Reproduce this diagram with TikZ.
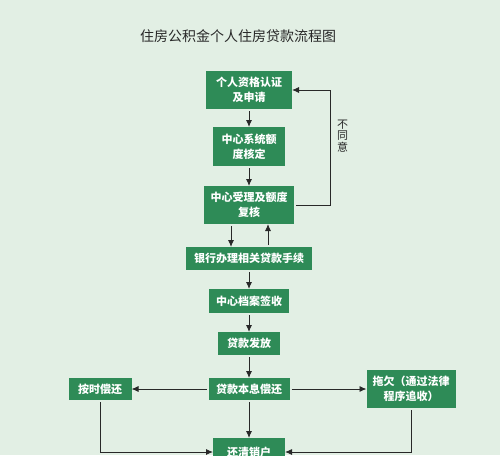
\documentclass[tikz,border=0pt]{standalone}
\usepackage{fontspec}
\setmainfont{Noto Sans CJK SC}
\usetikzlibrary{arrows.meta}
\definecolor{boxgreen}{RGB}{46,139,87}
\definecolor{paper}{RGB}{226,239,228}
\definecolor{ink}{RGB}{40,40,40}
\begin{document}
\begin{tikzpicture}[x=1pt,y=-1pt,inner sep=0pt,outer sep=0pt,>={Latex[length=7pt,width=6pt]},
stepbox/.style={draw=none,fill=boxgreen,text=white,rectangle,align=center,font=\fontsize{11}{15}\selectfont\bfseries},
flow/.style={->,draw=ink,line width=0.9pt,shorten <=2pt}]

\useasboundingbox (0,0) rectangle (500,455);
\clip (0,0) rectangle (500,455);
\fill[paper] (0,0) rectangle (500,455);

\draw (238,36) node[font=\fontsize{14}{16}\selectfont,text=ink] (title) {住房公积金个人住房贷款流程图};

\draw (249,90) node[stepbox,minimum width=86pt,minimum height=38pt] (apply) {个人资格认证\\及申请};
\draw (249,146.5) node[stepbox,minimum width=72pt,minimum height=39pt] (check) {中心系统额\\度核定};
\draw (249,205) node[stepbox,minimum width=90pt,minimum height=38pt] (review) {中心受理及额度\\复核};
\draw (249,258.5) node[stepbox,minimum width=126pt,minimum height=23pt] (bank) {银行办理相关贷款手续};
\draw (249,301) node[stepbox,minimum width=80pt,minimum height=24pt] (archive) {中心档案签收};
\draw (249,343.5) node[stepbox,minimum width=62pt,minimum height=23pt] (issue) {贷款发放};
\draw (249,389) node[stepbox,minimum width=81pt,minimum height=22pt] (repay) {贷款本息偿还};
\draw (100,389) node[stepbox,minimum width=63pt,minimum height=22pt] (ontime) {按时偿还};
\draw (411,389) node[stepbox,minimum width=89pt,minimum height=38pt] (default) {拖欠（通过法律\\程序追收）};
\draw (249,452) node[stepbox,minimum width=72pt,minimum height=28pt] (close) {还清销户};

\draw[flow] (apply) -- (check);
\draw[flow] (check) -- (review);
\draw[flow] (review.east) -- ++(36,0) |- node[pos=0.3,right=7pt,text=ink,align=center,font=\fontsize{11}{11.5}\selectfont] {不\\同\\意} (apply.east);
\draw[flow] ([xshift=-18pt]review.south) -- ([xshift=-18pt]bank.north);
\draw[flow] ([xshift=19pt]bank.north) -- ([xshift=19pt]review.south);
\draw[flow] (bank) -- (archive);
\draw[flow] (archive) -- (issue);
\draw[flow] (issue) -- (repay);
\draw[flow] (repay) -- (ontime);
\draw[flow] (repay) -- (default);
\draw[flow] (repay) -- (close);
\draw[flow] (ontime) |- (close);
\draw[flow] (default) |- (close);
\end{tikzpicture}
\end{document}
